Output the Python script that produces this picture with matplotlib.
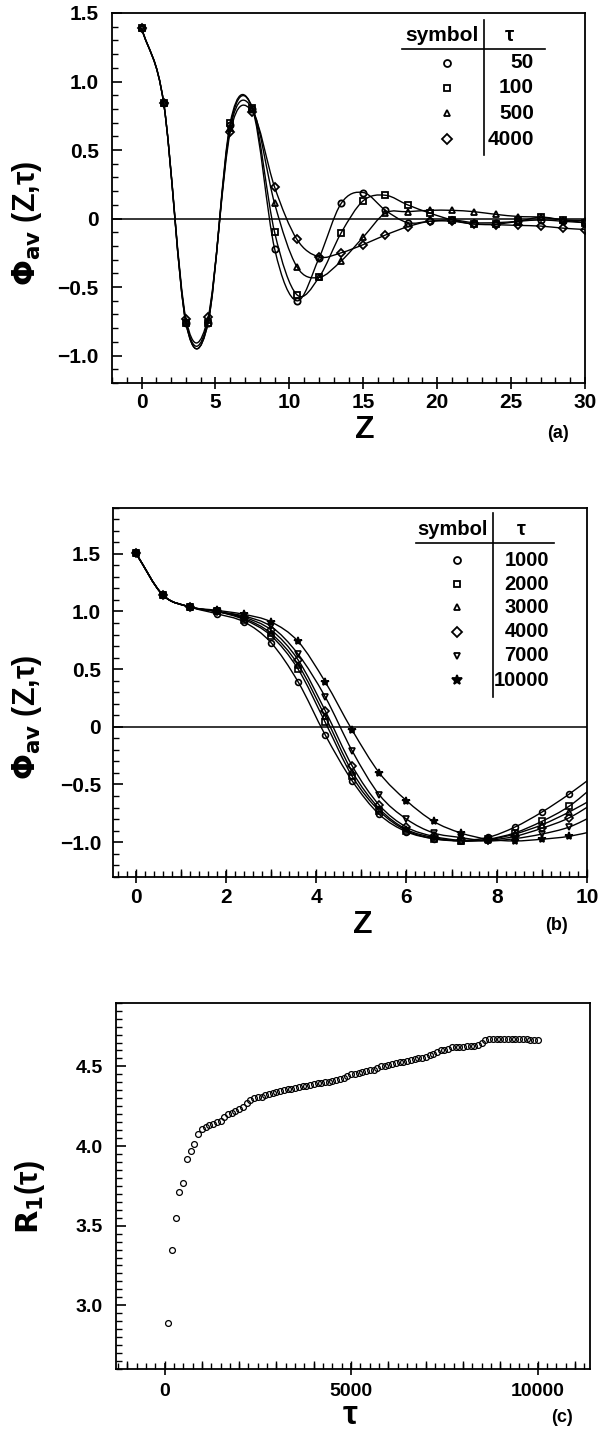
"""
Phi_av(Z, tau) profiles (a, b) and R1(tau) growth (c), three stacked panels.
"""
import numpy as np
import matplotlib
matplotlib.use("Agg")
import matplotlib.pyplot as plt
from matplotlib.path import Path
from matplotlib.patches import PathPatch
from matplotlib.ticker import MultipleLocator, FuncFormatter, NullLocator

plt.rcParams["font.family"] = ["Liberation Sans Narrow", "Liberation Sans", "DejaVu Sans"]
plt.rcParams["font.weight"] = "bold"
plt.rcParams["mathtext.fontset"] = "custom"
plt.rcParams["mathtext.rm"] = "Liberation Sans Narrow:bold"
plt.rcParams["mathtext.it"] = "Liberation Sans Narrow:bold"
plt.rcParams["mathtext.bf"] = "Liberation Sans Narrow:bold"
plt.rcParams["mathtext.default"] = "rm"
plt.rcParams["mathtext.fallback"] = "stixsans"

# ── panel (a): tau = 50 / 100 / 500 / 4000 ──────────────────────────────────
Z_A = [0, 1.5, 3, 4.5, 6, 7.5, 9, 10.5, 12, 13.5, 15, 16.5, 18, 19.5, 21,
       22.5, 24, 25.5, 27, 28.5, 30]
PHI_A_50 = [1.39, 0.84, -0.76, -0.76, 0.68, 0.80, -0.22, -0.60, -0.29, 0.11, 0.19,
            0.06, -0.03, -0.02, -0.01, -0.03, -0.03, -0.02, -0.01, -0.02, -0.03]
PHI_A_100 = [1.39, 0.84, -0.76, -0.76, 0.70, 0.81, -0.10, -0.555, -0.43, -0.105, 0.13,
             0.17, 0.10, 0.04, -0.01, -0.04, -0.04, -0.02, 0.01, -0.01, -0.03]
PHI_A_500 = [1.39, 0.84, -0.75, -0.74, 0.66, 0.80, 0.11, -0.35, -0.43, -0.31, -0.135,
             0.04, 0.05, 0.06, 0.06, 0.05, 0.03, 0.015, 0.01, -0.01, -0.015]
PHI_A_4000 = [1.39, 0.84, -0.73, -0.72, 0.63, 0.78, 0.23, -0.15, -0.28, -0.25, -0.19,
              -0.12, -0.06, -0.02, -0.02, -0.04, -0.045, -0.05, -0.055, -0.07, -0.08]
TAU_A = ["50", "100", "500", "4000"]
MARK_A = ["o", "s", "^", "D"]

# ── panel (b): tau = 1000 ... 10000 (last point lies just past the frame) ──
Z_B = [0, 0.6, 1.2, 1.8, 2.4, 3.0, 3.6, 4.2, 4.8, 5.4, 6.0, 6.6, 7.2, 7.8, 8.4,
       9.0, 9.6, 10.2]
PHI_B_1000 = [1.51, 1.145, 1.04, 0.98, 0.91, 0.73, 0.39, -0.07, -0.47, -0.76, -0.91,
              -0.97, -0.985, -0.96, -0.87, -0.74, -0.585, -0.41]
PHI_B_2000 = [1.51, 1.145, 1.04, 1.00, 0.93, 0.79, 0.50, 0.04, -0.43, -0.73, -0.90,
              -0.97, -0.99, -0.975, -0.92, -0.82, -0.69, -0.50]
PHI_B_3000 = [1.51, 1.145, 1.04, 1.00, 0.94, 0.81, 0.54, 0.09, -0.39, -0.71, -0.89,
              -0.96, -0.99, -0.98, -0.93, -0.85, -0.74, -0.61]
PHI_B_4000 = [1.51, 1.145, 1.04, 1.00, 0.95, 0.84, 0.58, 0.14, -0.34, -0.68, -0.87,
              -0.95, -0.985, -0.985, -0.95, -0.88, -0.79, -0.65]
PHI_B_7000 = [1.51, 1.145, 1.04, 1.00, 0.96, 0.87, 0.63, 0.26, -0.21, -0.59, -0.80,
              -0.92, -0.96, -0.99, -0.97, -0.93, -0.87, -0.76]
PHI_B_10000 = [1.51, 1.145, 1.04, 1.01, 0.975, 0.91, 0.74, 0.39, -0.03, -0.40, -0.64,
               -0.82, -0.92, -0.975, -0.99, -0.975, -0.95, -0.90]
TAU_B = ["1000", "2000", "3000", "4000", "7000", "10000"]
MARK_B = ["o", "s", "^", "D", "v", "*"]

# ── panel (c): R1(tau) ─────────────────────────────────────────────────────
TAU_C = [100, 200, 300, 400, 500, 600, 700, 800, 900, 1000,
         1100, 1200, 1300, 1400, 1500, 1600, 1700, 1800, 1900, 2000,
         2100, 2200, 2300, 2400, 2500, 2600, 2700, 2800, 2900, 3000,
         3100, 3200, 3300, 3400, 3500, 3600, 3700, 3800, 3900, 4000,
         4100, 4200, 4300, 4400, 4500, 4600, 4700, 4800, 4900, 5000,
         5100, 5200, 5300, 5400, 5500, 5600, 5700, 5800, 5900, 6000,
         6100, 6200, 6300, 6400, 6500, 6600, 6700, 6800, 6900, 7000,
         7100, 7200, 7300, 7400, 7500, 7600, 7700, 7800, 7900, 8000,
         8100, 8200, 8300, 8400, 8500, 8600, 8700, 8800, 8900, 9000,
         9100, 9200, 9300, 9400, 9500, 9600, 9700, 9800, 9900, 10000]
R1_C = [2.89, 3.35, 3.55, 3.71, 3.77, 3.92, 3.97, 4.01, 4.075, 4.11,
        4.12, 4.13, 4.14, 4.15, 4.16, 4.18, 4.20, 4.21, 4.22, 4.23,
        4.245, 4.27, 4.29, 4.30, 4.305, 4.31, 4.318, 4.325, 4.332, 4.34,
        4.345, 4.35, 4.355, 4.36, 4.365, 4.37, 4.375, 4.38, 4.385, 4.39,
        4.393, 4.397, 4.40, 4.405, 4.41, 4.415, 4.42, 4.428, 4.44, 4.45,
        4.455, 4.46, 4.465, 4.47, 4.475, 4.48, 4.49, 4.50, 4.505, 4.51,
        4.515, 4.52, 4.525, 4.53, 4.535, 4.54, 4.545, 4.55, 4.555, 4.56,
        4.57, 4.58, 4.59, 4.60, 4.605, 4.61, 4.62, 4.62, 4.62, 4.62,
        4.625, 4.625, 4.63, 4.635, 4.65, 4.665, 4.67, 4.67, 4.67, 4.67,
        4.67, 4.67, 4.672, 4.675, 4.675, 4.672, 4.67, 4.667, 4.665, 4.665]

W, H = 603, 1431


def px_box(left, top, right, bottom):
    return [left / W, 1 - bottom / H, (right - left) / W, (bottom - top) / H]


def fig_text(fig, x, y, s, **kw):
    fig.text(x / W, 1 - y / H, s, ha="center", va="center", **kw)


def smooth_curve(ax, x, y, lw=1.0):
    """Catmull-Rom curve through the points, drawn as Bezier segments."""
    x = np.asarray(x, float)
    y = np.asarray(y, float)
    px = np.concatenate([[2 * x[0] - x[1]], x, [2 * x[-1] - x[-2]]])
    py = np.concatenate([[2 * y[0] - y[1]], y, [2 * y[-1] - y[-2]]])
    verts = [(x[0], y[0])]
    codes = [Path.MOVETO]
    for i in range(1, len(px) - 2):
        c1 = (px[i] + (px[i + 1] - px[i - 1]) / 6, py[i] + (py[i + 1] - py[i - 1]) / 6)
        c2 = (px[i + 1] - (px[i + 2] - px[i]) / 6, py[i + 1] - (py[i + 2] - py[i]) / 6)
        verts += [c1, c2, (px[i + 1], py[i + 1])]
        codes += [Path.CURVE4] * 3
    ax.add_patch(PathPatch(Path(verts, codes), fill=False, lw=lw, color="black"))


def num_fmt(dec):
    def f(v, _):
        if abs(v) < 1e-9:
            return "0"
        return f"{v:.{dec}f}".replace("-", "\u2212")
    return FuncFormatter(f)


def style_axes(ax, xmaj, xmin, ymaj, ymin, xpad, ypad, fs, xdec=0, ydec=1):
    ax.xaxis.set_major_locator(MultipleLocator(xmaj))
    ax.xaxis.set_minor_locator(MultipleLocator(xmin))
    ax.yaxis.set_major_locator(MultipleLocator(ymaj))
    ax.yaxis.set_minor_locator(MultipleLocator(ymin))
    ax.xaxis.set_major_formatter(num_fmt(xdec))
    ax.yaxis.set_major_formatter(num_fmt(ydec))
    ax.tick_params(which="both", top=False, right=False, direction="in")
    ax.tick_params(axis="x", which="major", direction="inout", length=9, width=1.2,
                   pad=xpad, labelsize=fs)
    ax.tick_params(axis="x", which="minor", length=4, width=1.0)
    ax.tick_params(axis="y", which="major", length=7.5, width=1.2, pad=ypad, labelsize=fs)
    ax.tick_params(axis="y", which="minor", length=4, width=1.0)
    for s in ax.spines.values():
        s.set_linewidth(1.3)


def mid_ticks(ax, step, length=5.5):
    # extra, medium-length ticks on the bottom axis
    sec = ax.secondary_xaxis("bottom")
    sec.xaxis.set_major_locator(MultipleLocator(step))
    sec.xaxis.set_minor_locator(NullLocator())
    sec.tick_params(direction="in", length=length, width=1.0, labelbottom=False)
    sec.spines["bottom"].set_visible(False)


def symbol_table(ax, markers, labels, sym_x, val_x, tau_x, head_y, rows_y,
                 vline, hline, fs):
    t = ax.transAxes
    ax.text(vline[0] - 0.012, head_y, "symbol", transform=t, ha="right",
            va="center", fontsize=fs)
    ax.text(tau_x, head_y, "τ", transform=t, ha="center", va="center", fontsize=fs)
    ax.plot([vline[0], vline[0]], [vline[1], vline[2]], color="black", lw=1.2,
            transform=t, clip_on=False)
    ax.plot([hline[0], hline[1]], [hline[2], hline[2]], color="black", lw=1.2,
            transform=t, clip_on=False)
    for m, lab, ry in zip(markers, labels, rows_y):
        filled = m == "*"
        ax.plot([sym_x], [ry], marker=m, ms=7 if filled else 5,
                mfc="black" if filled else "none", mec="black", mew=1.3,
                transform=t, clip_on=False)
        ax.text(val_x, ry, lab, transform=t, ha="right", va="center", fontsize=fs)


fig = plt.figure(figsize=(W / 100, H / 100), dpi=100)

# ── (a) ────────────────────────────────────────────────────────────────────
ax_a = fig.add_axes(px_box(112, 13, 585, 383))
ax_a.axhline(0, color="black", lw=1.1)
for phi, m in zip([PHI_A_50, PHI_A_100, PHI_A_500, PHI_A_4000], MARK_A):
    smooth_curve(ax_a, Z_A, phi)
    ax_a.plot(Z_A, phi, ls="none", marker=m, ms=4.5 if m != "D" else 3.8,
              mfc="none", mec="black", mew=1.3)
ax_a.set_xlim(-2, 30)
ax_a.set_ylim(-1.2, 1.5)
style_axes(ax_a, 5, 1, 0.5, 0.1, xpad=2.5, ypad=9.5, fs=15)
symbol_table(ax_a, MARK_A, TAU_A, sym_x=0.708, val_x=0.892, tau_x=0.841,
             head_y=0.938, rows_y=[0.866, 0.798, 0.729, 0.659],
             vline=(0.7875, 0.981, 0.616), hline=(0.613, 0.915, 0.903), fs=15)
fig_text(fig, 27, 223, r"$\Phi_{av}$ (Z,τ)", rotation=90, fontsize=22)
fig_text(fig, 365, 430, "Z", fontsize=23)
fig_text(fig, 558, 434, "(a)", fontsize=13)

# ── (b) ────────────────────────────────────────────────────────────────────
ax_b = fig.add_axes(px_box(113, 507.7, 587, 876.7))
ax_b.axhline(0, color="black", lw=1.1)
for phi, m in zip([PHI_B_1000, PHI_B_2000, PHI_B_3000, PHI_B_4000, PHI_B_7000,
                   PHI_B_10000], MARK_B):
    smooth_curve(ax_b, Z_B, phi)
    filled = m == "*"
    ax_b.plot(Z_B, phi, ls="none", marker=m, ms=6 if filled else 4.2,
              mfc="black" if filled else "none", mec="black", mew=1.2)
ax_b.set_xlim(-0.5, 10)
ax_b.set_ylim(-1.3, 1.9)
style_axes(ax_b, 2, 0.2, 0.5, 0.1, xpad=3.5, ypad=8.5, fs=15)
mid_ticks(ax_b, 1)
symbol_table(ax_b, MARK_B, TAU_B, sym_x=0.726, val_x=0.920, tau_x=0.862,
             head_y=0.940, rows_y=[0.858, 0.793, 0.730, 0.664, 0.599, 0.533],
             vline=(0.8017, 0.986, 0.487), hline=(0.639, 0.930, 0.905), fs=14.5)
fig_text(fig, 27, 717, r"$\Phi_{av}$ (Z,τ)", rotation=90, fontsize=22)
fig_text(fig, 363, 925, "Z", fontsize=23)
fig_text(fig, 557, 926, "(b)", fontsize=13)

# ── (c) ────────────────────────────────────────────────────────────────────
ax_c = fig.add_axes(px_box(116, 1002.7, 590, 1369))
ax_c.plot(TAU_C, R1_C, ls="none", marker="o", ms=4.2, mfc="none", mec="black",
          mew=0.9)
ax_c.set_xlim(-1300, 11400)
ax_c.set_ylim(2.6, 4.9)
style_axes(ax_c, 5000, 250, 0.5, 0.05, xpad=5.5, ypad=9.5, fs=14)
mid_ticks(ax_c, 1000)
fig_text(fig, 30, 1197, r"$R_1$(τ)", rotation=90, fontsize=22)
fig_text(fig, 350, 1416, "τ", fontsize=24)
fig_text(fig, 562, 1418, "(c)", fontsize=13)

fig.savefig("out.png", dpi=100)
plt.close(fig)
